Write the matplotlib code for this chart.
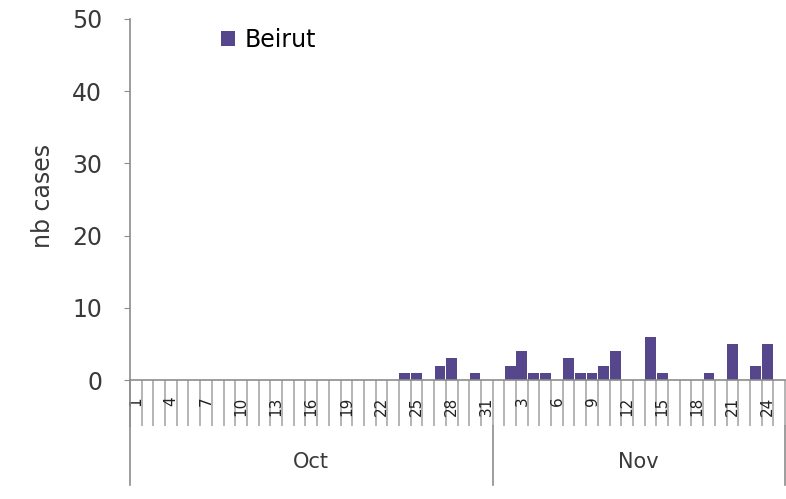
import matplotlib
matplotlib.use("Agg")
import matplotlib.pyplot as plt

# daily case counts, Beirut
oct_days = list(range(1, 32))
oct_cases = [0, 0, 0, 0, 0, 0, 0, 0, 0, 0,
             0, 0, 0, 0, 0, 0, 0, 0, 0, 0,
             0, 0, 0, 1, 1, 0, 2, 3, 0, 1,
             0]
nov_days = list(range(1, 26))
nov_cases = [0, 2, 4, 1, 1, 0, 3, 1, 1, 2,
             4, 0, 0, 6, 1, 0, 0, 0, 1, 0,
             5, 0, 2, 5, 0]
months = ["Oct", "Nov"]
y_ticks = [0, 10, 20, 30, 40, 50]

days = oct_days + nov_days
cases = oct_cases + nov_cases
n = len(days)

plt.rcParams['font.family'] = ['DejaVu Sans']
grey = '#8c8c8c'
bar_color = '#56478c'
text_color = '#3a3a3a'

fig = plt.figure(figsize=(7.86, 4.99), dpi=100)
ax = fig.add_axes([130 / 786, 1 - 380 / 499, 655 / 786, 361 / 499])

x = [i + 0.5 for i in range(n)]
ax.bar(x, cases, width=0.92, color=bar_color, label='Beirut')

ax.set_xlim(0, n)
ax.set_ylim(0, 50)
ax.set_yticks(y_ticks)
ax.tick_params(axis='y', direction='out', length=4, color=grey, pad=16,
               labelsize=17, labelcolor=text_color)

# category separators in the label band (major ticks), day labels (minor ticks)
ax.set_xticks(range(n + 1))
ax.set_xticklabels([])
ax.tick_params(axis='x', which='major', direction='out', length=33, width=1.2,
               color='#a8a8a8')
lab_idx = list(range(0, n, 3))
ax.set_xticks([x[i] for i in lab_idx], minor=True)
ax.set_xticklabels([str(days[i]) for i in lab_idx], minor=True, rotation=90,
                   fontsize=11, color='#222222')
ax.tick_params(axis='x', which='minor', length=0, pad=12)

for s in ['top', 'right']:
    ax.spines[s].set_visible(False)
for s in ['left', 'bottom']:
    ax.spines[s].set_color(grey)
    ax.spines[s].set_linewidth(1.2)

# month level of the axis
tr = ax.get_xaxis_transform()
bounds = [0, len(oct_days), n]
for b in bounds:
    ax.plot([b, b], [-0.127, -0.29], transform=tr, color=grey, lw=1.2,
            clip_on=False)
ax.plot([0, 0], [0, -0.127], transform=tr, color=grey, lw=1.2, clip_on=False)
for k, m in enumerate(months):
    ax.text((bounds[k] + bounds[k + 1]) / 2, -0.227, m, transform=tr,
            ha='center', va='center', fontsize=15, color=text_color)

ax.set_ylabel('nb cases', fontsize=17, color=text_color)
ax.yaxis.set_label_coords(-0.115, 0.51)

ax.legend(loc='upper left', bbox_to_anchor=(221 / 786, 1 - 28 / 499),
          bbox_transform=fig.transFigure, frameon=False, fontsize=17,
          handlelength=0.6, handleheight=0.6, handletextpad=0.4,
          borderpad=0, borderaxespad=0)

fig.savefig('out.png', dpi=100, facecolor='white')
